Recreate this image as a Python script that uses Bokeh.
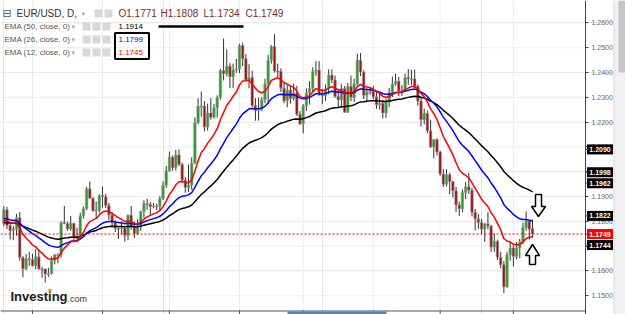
import pandas as pd
from bokeh.plotting import figure
from bokeh.models import Range1d, FixedTicker, NumeralTickFormatter, LinearAxis
from bokeh.core.properties import value
from bokeh.embed import file_html
from bokeh.resources import INLINE

# ---------------- data ----------------
symbol = "EUR/USD, D,"
dates = [d.strftime("%Y-%m-%d") for d in pd.bdate_range("2017-10-19", "2018-06-11")
         if d.strftime("%m-%d") != "01-01"]

opens = [
    1.1790, 1.1847, 1.1783, 1.1762, 1.1768, 1.1815, 1.1654, 1.1609, 1.1650,
    1.1646, 1.1621, 1.1657, 1.1608, 1.1608, 1.1588, 1.1589, 1.1641, 1.1665, 1.1665, 1.1795, 1.1791, 1.1769, 1.1792, 1.1734, 1.1734, 1.1822, 1.1851, 1.1931, 1.1893, 1.1843, 1.1845,
    1.1904, 1.1899, 1.1864, 1.1826, 1.1795, 1.1772, 1.1771, 1.1773, 1.1743, 1.1825, 1.1777, 1.1750, 1.1781, 1.1839, 1.1872, 1.1869, 1.1859, 1.1862, 1.1861, 1.1891, 1.1946,
    1.2004, 1.2059, 1.2016, 1.2068, 1.2029, 1.1967, 1.1936, 1.1947, 1.2035, 1.2198, 1.2264, 1.2265, 1.2180, 1.2237, 1.2220, 1.2258, 1.2300, 1.2408, 1.2395, 1.2426, 1.2383, 1.2411,
    1.2414, 1.2509, 1.2456, 1.2370, 1.2380, 1.2267, 1.2247, 1.2251, 1.2290, 1.2354, 1.2450, 1.2505, 1.2406, 1.2405, 1.2337, 1.2285, 1.2330, 1.2295, 1.2318, 1.2232,
    1.2193, 1.2265, 1.2317, 1.2336, 1.2405, 1.2410, 1.2311, 1.2306, 1.2335, 1.2390, 1.2370, 1.2303, 1.2290, 1.2336, 1.2240, 1.2345, 1.2300, 1.2354, 1.2450, 1.2402, 1.2308, 1.2322,
    1.2324, 1.2302, 1.2270, 1.2276, 1.2237, 1.2281, 1.2320, 1.2354, 1.2365, 1.2326, 1.2330, 1.2380, 1.2374, 1.2375, 1.2345, 1.2285, 1.2210, 1.2235, 1.2165, 1.2100, 1.2130,
    1.2080, 1.1991, 1.1950, 1.1988, 1.1960, 1.1923, 1.1866, 1.1851, 1.1916, 1.1940, 1.1925, 1.1837, 1.1810, 1.1795, 1.1768, 1.1790, 1.1781, 1.1696, 1.1720, 1.1655, 1.1625, 1.1536, 1.1665,
    1.1693, 1.1658, 1.1693, 1.1716, 1.1775, 1.1801, 1.1771,
]
highs = [
    1.1861, 1.1858, 1.1792, 1.1781, 1.1830, 1.1837, 1.1660, 1.1668, 1.1677,
    1.1669, 1.1688, 1.1688, 1.1617, 1.1610, 1.1613, 1.1658, 1.1668, 1.1671, 1.1800, 1.1862, 1.1799, 1.1822, 1.1794, 1.1774, 1.1835, 1.1860, 1.1939, 1.1961, 1.1898, 1.1880, 1.1909,
    1.1940, 1.1911, 1.1874, 1.1838, 1.1805, 1.1775, 1.1800, 1.1781, 1.1828, 1.1862, 1.1799, 1.1809, 1.1843, 1.1885, 1.1891, 1.1878, 1.1874, 1.1871, 1.1903, 1.1961, 1.2023,
    1.2081, 1.2066, 1.2088, 1.2090, 1.2037, 1.1978, 1.2029, 1.2058, 1.2219, 1.2296, 1.2323, 1.2285, 1.2275, 1.2297, 1.2274, 1.2308, 1.2415, 1.2537, 1.2494, 1.2438, 1.2436, 1.2455,
    1.2516, 1.2521, 1.2474, 1.2434, 1.2407, 1.2297, 1.2299, 1.2302, 1.2375, 1.2472, 1.2511, 1.2555, 1.2436, 1.2417, 1.2361, 1.2353, 1.2348, 1.2355, 1.2347, 1.2245,
    1.2273, 1.2336, 1.2366, 1.2421, 1.2446, 1.2446, 1.2334, 1.2352, 1.2413, 1.2413, 1.2388, 1.2335, 1.2353, 1.2346, 1.2358, 1.2388, 1.2375, 1.2476, 1.2479, 1.2409, 1.2338, 1.2339,
    1.2347, 1.2325, 1.2319, 1.2290, 1.2295, 1.2338, 1.2384, 1.2396, 1.2382, 1.2349, 1.2396, 1.2414, 1.2411, 1.2412, 1.2352, 1.2297, 1.2254, 1.2247, 1.2210, 1.2131, 1.2135,
    1.2085, 1.2010, 1.2010, 1.1996, 1.1963, 1.1939, 1.1880, 1.1928, 1.1959, 1.1996, 1.1935, 1.1850, 1.1830, 1.1809, 1.1792, 1.1837, 1.1786, 1.1750, 1.1726, 1.1677, 1.1640, 1.1677, 1.1718,
    1.1704, 1.1717, 1.1729, 1.1795, 1.1840, 1.1805, 1.1808,
]
lows = [
    1.1780, 1.1769, 1.1727, 1.1724, 1.1742, 1.1641, 1.1574, 1.1603, 1.1621,
    1.1618, 1.1607, 1.1604, 1.1572, 1.1554, 1.1575, 1.1586, 1.1627, 1.1631, 1.1654, 1.1789, 1.1762, 1.1762, 1.1722, 1.1715, 1.1731, 1.1812, 1.1845, 1.1891, 1.1838, 1.1812, 1.1835,
    1.1855, 1.1854, 1.1806, 1.1777, 1.1757, 1.1729, 1.1748, 1.1717, 1.1724, 1.1766, 1.1732, 1.1745, 1.1761, 1.1815, 1.1847, 1.1822, 1.1852, 1.1845, 1.1841, 1.1886, 1.1935,
    1.2000, 1.2004, 1.2005, 1.2023, 1.1955, 1.1916, 1.1917, 1.1927, 1.2030, 1.2192, 1.2222, 1.2163, 1.2166, 1.2210, 1.2214, 1.2219, 1.2290, 1.2368, 1.2385, 1.2337, 1.2338, 1.2398,
    1.2398, 1.2426, 1.2367, 1.2337, 1.2260, 1.2206, 1.2206, 1.2244, 1.2276, 1.2273, 1.2436, 1.2400, 1.2380, 1.2322, 1.2277, 1.2260, 1.2275, 1.2287, 1.2225, 1.2188,
    1.2155, 1.2245, 1.2271, 1.2322, 1.2387, 1.2306, 1.2272, 1.2286, 1.2313, 1.2358, 1.2298, 1.2259, 1.2260, 1.2238, 1.2238, 1.2284, 1.2281, 1.2347, 1.2386, 1.2293, 1.2284, 1.2310,
    1.2292, 1.2254, 1.2251, 1.2215, 1.2217, 1.2260, 1.2301, 1.2347, 1.2305, 1.2306, 1.2322, 1.2350, 1.2350, 1.2334, 1.2267, 1.2182, 1.2191, 1.2155, 1.2096, 1.2054, 1.2066,
    1.1984, 1.1938, 1.1941, 1.1910, 1.1897, 1.1838, 1.1822, 1.1836, 1.1890, 1.1911, 1.1820, 1.1763, 1.1770, 1.1749, 1.1717, 1.1768, 1.1676, 1.1677, 1.1644, 1.1610, 1.1510, 1.1532, 1.1641,
    1.1618, 1.1647, 1.1651, 1.1707, 1.1762, 1.1727, 1.1734,
]
closes = [
    1.1847, 1.1783, 1.1762, 1.1768, 1.1815, 1.1654, 1.1609, 1.1650, 1.1646,
    1.1621, 1.1657, 1.1608, 1.1608, 1.1588, 1.1589, 1.1641, 1.1665, 1.1665, 1.1795, 1.1791, 1.1769, 1.1792, 1.1734, 1.1734, 1.1822, 1.1851, 1.1931, 1.1893, 1.1843, 1.1845, 1.1904,
    1.1899, 1.1864, 1.1826, 1.1795, 1.1772, 1.1771, 1.1773, 1.1743, 1.1825, 1.1777, 1.1750, 1.1781, 1.1839, 1.1872, 1.1869, 1.1859, 1.1862, 1.1861, 1.1891, 1.1946, 1.2004,
    1.2059, 1.2016, 1.2068, 1.2029, 1.1967, 1.1936, 1.1947, 1.2035, 1.2198, 1.2264, 1.2265, 1.2180, 1.2237, 1.2220, 1.2258, 1.2300, 1.2408, 1.2395, 1.2426, 1.2383, 1.2411, 1.2414,
    1.2509, 1.2456, 1.2370, 1.2380, 1.2267, 1.2247, 1.2251, 1.2290, 1.2354, 1.2450, 1.2505, 1.2406, 1.2405, 1.2337, 1.2285, 1.2330, 1.2295, 1.2318, 1.2232, 1.2193,
    1.2265, 1.2317, 1.2336, 1.2405, 1.2410, 1.2311, 1.2306, 1.2335, 1.2390, 1.2370, 1.2303, 1.2290, 1.2336, 1.2240, 1.2345, 1.2300, 1.2354, 1.2450, 1.2402, 1.2308, 1.2322, 1.2324,
    1.2302, 1.2270, 1.2276, 1.2237, 1.2281, 1.2320, 1.2354, 1.2365, 1.2326, 1.2330, 1.2380, 1.2374, 1.2375, 1.2345, 1.2285, 1.2210, 1.2235, 1.2165, 1.2100, 1.2130, 1.2080,
    1.1991, 1.1950, 1.1988, 1.1960, 1.1923, 1.1866, 1.1851, 1.1916, 1.1940, 1.1925, 1.1837, 1.1810, 1.1795, 1.1768, 1.1790, 1.1781, 1.1696, 1.1720, 1.1655, 1.1625, 1.1536, 1.1665, 1.1693,
    1.1658, 1.1693, 1.1716, 1.1775, 1.1801, 1.1768, 1.1749,
]

ema_periods = [50, 26, 12]
ema_seeds = [1.1795, 1.1812, 1.1805]          # indicator values at the first visible candle
ema_colors = ["#000000", "#0000ff", "#ff0000"]
ema_labels = ["EMA (50, close, 0)", "EMA (26, close, 0)", "EMA (12, close, 0)"]
ema_values_text = ["1.1914", "1.1799", "1.1745"]

yticks = [1.15, 1.16, 1.17, 1.18, 1.19, 1.20, 1.21, 1.22, 1.23, 1.24, 1.25, 1.26]
level_badges = [1.2090, 1.1998, 1.1962, 1.1822, 1.1744]

n = len(closes)
assert n == len(opens) == len(highs) == len(lows) == len(dates), (n, len(dates))
idx = list(range(n))

# ---------------- layout helpers (pixel -> data) ----------------
W, H = 625, 314
PLOT_R = 585          # right edge of the price area (axis line)
PLOT_B = 310          # bottom edge of the price area
DX = 3.185            # pixels per candle
X0 = 3.3              # pixel of the first candle
PPU = 2480.0          # pixels per price unit
XS = -X0 / DX
YT = closes[-1] + 233.5 / PPU


def fx(px):
    return XS + px / DX


def fy(py):
    return YT - py / PPU


p = figure(width=W, height=H, output_backend="svg", toolbar_location=None,
           x_range=Range1d(fx(0), fx(W)), y_range=Range1d(fy(H), fy(0)),
           x_axis_location=None, y_axis_location=None, min_border=0)
p.outline_line_color = None
p.background_fill_color = "white"
p.border_fill_color = "white"

# grid
month_starts = [i for i in range(1, n) if dates[i][5:7] != dates[i - 1][5:7]]
p.segment(x0=[fx(0)] * len(yticks), y0=yticks, x1=[fx(PLOT_R)] * len(yticks), y1=yticks,
          line_color="#ececec", line_width=1)
p.segment(x0=month_starts, y0=[fy(0)] * len(month_starts), x1=month_starts,
          y1=[fy(PLOT_B)] * len(month_starts), line_color="#ececec", line_width=1)

# right price axis, drawn at the right edge of the price area
ax = LinearAxis(fixed_location=fx(PLOT_R), ticker=FixedTicker(ticks=yticks),
                formatter=NumeralTickFormatter(format="0.0000"))
ax.major_label_text_font = "Liberation Sans"
ax.major_label_text_font_size = "7px"
ax.major_label_text_color = "#666666"
ax.axis_line_color = "#444444"
ax.major_tick_line_color = "#444444"
ax.major_tick_out = 3
ax.major_tick_in = 0
ax.minor_tick_line_color = None
ax.major_label_standoff = 3
p.add_layout(ax, "right")

# bottom time-axis line, ticks and range marker
p.segment(x0=[fx(0)], y0=[fy(PLOT_B + 0.5)], x1=[fx(PLOT_R)], y1=[fy(PLOT_B + 0.5)],
          line_color="#555555", line_width=1)
p.segment(x0=month_starts, y0=[fy(PLOT_B)] * len(month_starts), x1=month_starts,
          y1=[fy(H)] * len(month_starts), line_color="#555555", line_width=1)
p.quad(left=[fx(287)], right=[fx(386)], top=[fy(PLOT_B + 1)], bottom=[fy(H)],
       fill_color="#4a86c5", line_color=None)

# candles
up = [c >= o for o, c in zip(opens, closes)]
tops = [max(o, c) for o, c in zip(opens, closes)]
bots = [min(o, c) for o, c in zip(opens, closes)]
bots = [b if t - b > 0.0004 else t - 0.0004 for t, b in zip(tops, bots)]
cols = ["#23a023" if u else "#9b1212" for u in up]
p.segment(x0=idx, y0=highs, x1=idx, y1=lows, line_color="#333333", line_width=1)
p.vbar(x=idx, width=0.78, top=tops, bottom=bots, fill_color=cols,
       line_color="#9a9a9a", line_width=0.6)


# EMAs
def ema(vals, period, seed):
    a = 2.0 / (period + 1)
    out = [seed]
    e = seed
    for v in vals[1:]:
        e = e + a * (v - e)
        out.append(e)
    return out


for per, seed, col in zip(ema_periods, ema_seeds, ema_colors):
    p.line(idx, ema(closes, per, seed), line_color=col, line_width=1.5)

# last price line
p.segment(x0=[fx(0)], y0=[closes[-1]], x1=[fx(PLOT_R)], y1=[closes[-1]],
          line_color="#ff0000", line_dash="2 2", line_width=1)

# ---------------- legend / header ----------------
F = value("Liberation Sans")
p.text(x=[fx(2)], y=[fy(13)], text=["⊟"], text_font=value("DejaVu Sans"),
       text_font_size="11px", text_color="#555555", text_baseline="middle")
p.text(x=[fx(16)], y=[fy(13)], text=[symbol], text_font=F, text_font_size="10px",
       text_color="#333333", text_baseline="middle")
p.text(x=[fx(81), fx(71), fx(71), fx(71)], y=[fy(13), fy(26), fy(39), fy(52)],
       text=["▾"] * 4, text_font=value("DejaVu Sans"), text_font_size="7px",
       text_color="#aaaaaa", text_baseline="middle")
p.rect(x=[fx(98), fx(108)], y=[fy(13)] * 2, width=8, height=8, width_units="screen",
       height_units="screen", fill_color="#d8d8d8", line_color=None)
ohlc = ["O%.4f" % opens[-1], "H%.4f" % highs[-1], "L%.4f" % lows[-1], "C%.4f" % closes[-1]]
p.text(x=[fx(118), fx(160), fx(203), fx(245)], y=[fy(13)] * 4, text=ohlc, text_font=F,
       text_font_size="10px", text_color="#7d2c2c", text_baseline="middle")

rows_y = [26, 39, 52]
p.text(x=[fx(4)] * 3, y=[fy(v) for v in rows_y], text=ema_labels, text_font=F,
       text_font_size="8px", text_color="#555555", text_baseline="middle")
for xc in (86, 96, 106):
    p.rect(x=[fx(xc)] * 3, y=[fy(v) for v in rows_y], width=8, height=8,
           width_units="screen", height_units="screen", fill_color="#d8d8d8", line_color=None)
p.text(x=[fx(118)] * 3, y=[fy(v) for v in rows_y], text=ema_values_text, text_font=F,
       text_font_size="8px", text_color=ema_colors, text_baseline="middle")
p.rect(x=[fx(131.5)], y=[fy(45.5)], width=34, height=26, width_units="screen",
       height_units="screen", fill_color=None, line_color="#000000", line_width=2)
p.segment(x0=[fx(158)], y0=[fy(26)], x1=[fx(243)], y1=[fy(26)], line_color="#000000",
          line_width=2.5)

# arrows
down_px = [(535, 194), (541, 194), (541, 206), (545, 206), (538, 216), (531, 206), (535, 206)]
up_px = [(532, 244), (539, 255), (535, 255), (535, 264), (529, 264), (529, 255), (525, 255)]
for shape in (down_px, up_px):
    p.patch([fx(a) for a, b in shape], [fy(b) for a, b in shape], fill_color="white",
            line_color="#000000", line_width=1.5)

# logo
p.text(x=[fx(10)], y=[fy(296)], text=["Investing"], text_font=F, text_font_style="bold",
       text_font_size="13px", text_color="#1a1a1a", text_baseline="middle")
p.text(x=[fx(67)], y=[fy(298)], text=[".com"], text_font=F, text_font_size="9px",
       text_color="#333333", text_baseline="middle")
p.scatter(x=[fx(49.5)], y=[fy(290)], size=3, color="#f39c12")

# scrollbar strip at the far right
p.quad(left=[fx(613)], right=[fx(W)], top=[fy(0)], bottom=[fy(H)],
       fill_color="#f1f1f1", line_color=None)
p.segment(x0=[fx(613.5)], y0=[fy(0)], x1=[fx(613.5)], y1=[fy(H)], line_color="#dcdcdc")
p.quad(left=[fx(618)], right=[fx(W)], top=[fy(0)], bottom=[fy(72)],
       fill_color="#c4c4c4", line_color=None)

# right-side price badges (drawn over the axis labels)
badges = sorted([(v, "#000000") for v in level_badges] + [(closes[-1], "#ff0000")],
                key=lambda t: -t[0])
bpos, btxt, bcol = [], [], []
prev = None
for v, bg in badges:
    pos = v if prev is None else min(v, prev - 11 / PPU)
    prev = pos
    bpos.append(pos)
    btxt.append("%.4f" % v)
    bcol.append(bg)
r1 = p.rect(x=[fx(599.5)] * len(bpos), y=bpos, width=26, height=10, width_units="screen",
            height_units="screen", fill_color=bcol, line_color=None)
r2 = p.segment(x0=[fx(PLOT_R)] * len(bpos), y0=bpos, x1=[fx(588)] * len(bpos), y1=bpos,
               line_color="#444444", line_width=1)
r3 = p.text(x=[fx(599.5)] * len(bpos), y=bpos, text=btxt, text_font=F,
            text_font_size="7px", text_font_style="bold", text_color="white",
            text_align="center", text_baseline="middle")
for r in (r1, r2, r3):
    r.level = "overlay"

open("out.html", "w").write(file_html(p, INLINE))
